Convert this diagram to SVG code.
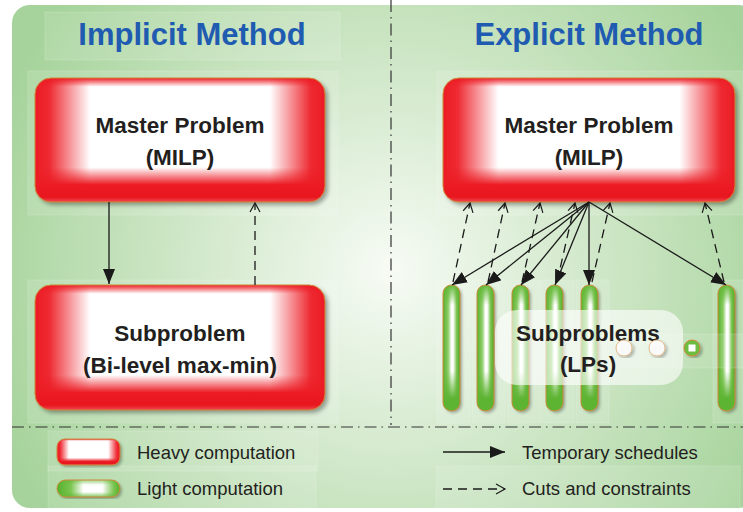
<svg xmlns="http://www.w3.org/2000/svg" width="743" height="512" viewBox="0 0 743 512">
<defs>
<radialGradient id="bg" cx="390" cy="270" r="420" gradientUnits="userSpaceOnUse">
<stop offset="0" stop-color="#f7fbf5"/>
<stop offset="0.45" stop-color="#d3e9cc"/>
<stop offset="1" stop-color="#a6d39b"/>
</radialGradient>
<linearGradient id="redH" x1="0" y1="0" x2="1" y2="0">
<stop offset="0" stop-color="#ec1c24"/>
<stop offset="0.05" stop-color="#ee2a32"/>
<stop offset="0.19" stop-color="#ffffff"/>
<stop offset="0.81" stop-color="#ffffff"/>
<stop offset="0.95" stop-color="#ee2a32"/>
<stop offset="1" stop-color="#ec1c24"/>
</linearGradient>
<linearGradient id="redV" x1="0" y1="0" x2="0" y2="1">
<stop offset="0" stop-color="#ec1c24" stop-opacity="1"/>
<stop offset="0.07" stop-color="#ec1c24" stop-opacity="0"/>
<stop offset="0.72" stop-color="#ec1c24" stop-opacity="0"/>
<stop offset="0.86" stop-color="#ec1c24" stop-opacity="1"/>
<stop offset="0.96" stop-color="#e8161e" stop-opacity="1"/>
<stop offset="1" stop-color="#f04850" stop-opacity="1"/>
</linearGradient>
<linearGradient id="grnH" x1="0" y1="0" x2="1" y2="0">
<stop offset="0" stop-color="#55b02a"/>
<stop offset="0.3" stop-color="#8ccd66"/>
<stop offset="0.5" stop-color="#ffffff"/>
<stop offset="0.6" stop-color="#ffffff"/>
<stop offset="0.8" stop-color="#7cc552"/>
<stop offset="1" stop-color="#4ea626"/>
</linearGradient>
<linearGradient id="grnV" x1="0" y1="0" x2="0" y2="1">
<stop offset="0" stop-color="#62b836" stop-opacity="1"/>
<stop offset="0.16" stop-color="#62b836" stop-opacity="0"/>
<stop offset="0.68" stop-color="#62b836" stop-opacity="0"/>
<stop offset="0.9" stop-color="#5db332" stop-opacity="1"/>
<stop offset="1" stop-color="#5db332" stop-opacity="1"/>
</linearGradient>
<linearGradient id="grnLeg" x1="0" y1="0" x2="1" y2="0">
<stop offset="0" stop-color="#55b02a"/>
<stop offset="0.22" stop-color="#7cc552"/>
<stop offset="0.42" stop-color="#ffffff"/>
<stop offset="0.72" stop-color="#ffffff"/>
<stop offset="0.9" stop-color="#7cc552"/>
<stop offset="1" stop-color="#55b02a"/>
</linearGradient>
<linearGradient id="grnLegV" x1="0" y1="0" x2="0" y2="1">
<stop offset="0" stop-color="#62b836" stop-opacity="0.6"/>
<stop offset="0.3" stop-color="#62b836" stop-opacity="0"/>
<stop offset="0.7" stop-color="#62b836" stop-opacity="0"/>
<stop offset="1" stop-color="#62b836" stop-opacity="0.8"/>
</linearGradient>
<filter id="shadow" x="-20%" y="-20%" width="140%" height="140%">
<feDropShadow dx="3" dy="3" stdDeviation="2" flood-color="#000" flood-opacity="0.35"/>
</filter>
<filter id="pshadow" x="-20%" y="-10%" width="150%" height="120%">
<feDropShadow dx="2" dy="2" stdDeviation="1.5" flood-color="#000" flood-opacity="0.3"/>
</filter>
<marker id="solidHead" markerUnits="userSpaceOnUse" markerWidth="16" markerHeight="14" refX="15" refY="6" orient="auto">
<path d="M0,0 L15,6 L0,12 Z" fill="#1a1a1a"/>
</marker>
<marker id="openHead" markerUnits="userSpaceOnUse" markerWidth="12" markerHeight="12" refX="10" refY="6" orient="auto">
<path d="M1,1 L10,6 L1,11" fill="none" stroke="#1a1a1a" stroke-width="1.2"/>
</marker>
<style>
.title{font-family:"Liberation Sans",Arial,sans-serif;font-weight:bold;font-size:31px;fill:#1f5bb0;text-anchor:middle}
.big{font-family:"Liberation Sans",Arial,sans-serif;font-weight:bold;font-size:22.5px;fill:#231f20;text-anchor:middle}
.leg{font-family:"Liberation Sans",Arial,sans-serif;font-size:18.5px;fill:#231f20}
.faint{fill:#ffffff;fill-opacity:0.12;stroke:#ffffff;stroke-opacity:0.2;stroke-width:0.8}
.solid{stroke:#1a1a1a;stroke-width:1.3;fill:none}
.dash{stroke:#1a1a1a;stroke-width:1.3;fill:none;stroke-dasharray:9,6}
.sep{stroke:#333;stroke-width:1.2;fill:none;stroke-dasharray:12,5,1.5,5}
.edge{fill:none;stroke:#cf8a3a;stroke-width:1}
</style>
</defs>

<rect x="0" y="0" width="743" height="512" fill="#ffffff"/>
<rect x="12" y="5" width="745" height="503" rx="18" fill="url(#bg)"/>

<g id="faint-boxes">
<rect class="faint" x="45" y="12" width="295" height="48"/>
<rect class="faint" x="28" y="71" width="310" height="144"/>
<rect class="faint" x="28" y="280" width="310" height="143"/>
<rect class="faint" x="437" y="71" width="306" height="144"/>
<rect class="faint" x="437" y="280" width="33" height="143"/>
<rect class="faint" x="472" y="280" width="33" height="143"/>
<rect class="faint" x="507" y="280" width="33" height="143"/>
<rect class="faint" x="541" y="280" width="33" height="143"/>
<rect class="faint" x="576" y="280" width="33" height="143"/>
<rect class="faint" x="713" y="280" width="30" height="143"/>
<rect class="faint" x="48" y="431" width="270" height="40"/>
<rect class="faint" x="48" y="466" width="268" height="44"/>
<rect class="faint" x="436" y="466" width="304" height="44"/>
</g>

<g id="dividers">
<line class="sep" x1="391" y1="0" x2="391" y2="425"/>
<line class="sep" x1="12" y1="427" x2="743" y2="427"/>
</g>

<g id="title-implicit"><text class="title" x="192" y="45">Implicit Method</text></g>
<g id="title-explicit"><text class="title" x="589" y="45">Explicit Method</text></g>

<g id="master-left">
<rect x="35" y="78" width="290" height="124" rx="16" fill="url(#redH)" filter="url(#shadow)"/>
<rect x="35" y="78" width="290" height="124" rx="16" fill="url(#redV)"/>
<rect class="edge" x="35" y="78" width="290" height="124" rx="16"/>
<text class="big" x="180" y="133">Master Problem</text>
<text class="big" x="180" y="165">(MILP)</text>
</g>

<g id="sub-left">
<rect x="35" y="285" width="290" height="125" rx="16" fill="url(#redH)" filter="url(#shadow)"/>
<rect x="35" y="285" width="290" height="125" rx="16" fill="url(#redV)"/>
<rect class="edge" x="35" y="285" width="290" height="125" rx="16"/>
<text class="big" x="180" y="341">Subproblem</text>
<text class="big" x="180" y="373">(Bi-level max-min)</text>
</g>

<g id="master-right">
<rect x="443" y="78" width="292" height="124" rx="16" fill="url(#redH)" filter="url(#shadow)"/>
<rect x="443" y="78" width="292" height="124" rx="16" fill="url(#redV)"/>
<rect class="edge" x="443" y="78" width="292" height="124" rx="16"/>
<text class="big" x="589" y="133">Master Problem</text>
<text class="big" x="589" y="165">(MILP)</text>
</g>

<g id="pills">
<g id="pill1"><rect x="443" y="285" width="17" height="126" rx="8.5" fill="url(#grnH)" filter="url(#pshadow)"/><rect x="443" y="285" width="17" height="126" rx="8.5" fill="url(#grnV)"/><rect class="edge" x="443" y="285" width="17" height="126" rx="8.5"/></g>
<g id="pill2"><rect x="477" y="285" width="17" height="126" rx="8.5" fill="url(#grnH)" filter="url(#pshadow)"/><rect x="477" y="285" width="17" height="126" rx="8.5" fill="url(#grnV)"/><rect class="edge" x="477" y="285" width="17" height="126" rx="8.5"/></g>
<g id="pill3"><rect x="512" y="285" width="17" height="126" rx="8.5" fill="url(#grnH)" filter="url(#pshadow)"/><rect x="512" y="285" width="17" height="126" rx="8.5" fill="url(#grnV)"/><rect class="edge" x="512" y="285" width="17" height="126" rx="8.5"/></g>
<g id="pill4"><rect x="546" y="285" width="17" height="126" rx="8.5" fill="url(#grnH)" filter="url(#pshadow)"/><rect x="546" y="285" width="17" height="126" rx="8.5" fill="url(#grnV)"/><rect class="edge" x="546" y="285" width="17" height="126" rx="8.5"/></g>
<g id="pill5"><rect x="581" y="285" width="17" height="126" rx="8.5" fill="url(#grnH)" filter="url(#pshadow)"/><rect x="581" y="285" width="17" height="126" rx="8.5" fill="url(#grnV)"/><rect class="edge" x="581" y="285" width="17" height="126" rx="8.5"/></g>
<g id="pill6"><rect x="718" y="285" width="17" height="126" rx="8.5" fill="url(#grnH)" filter="url(#pshadow)"/><rect x="718" y="285" width="17" height="126" rx="8.5" fill="url(#grnV)"/><rect class="edge" x="718" y="285" width="17" height="126" rx="8.5"/></g>
</g>

<g id="subproblems-label">
<rect x="495" y="310" width="188" height="75" rx="22" fill="#ffffff" fill-opacity="0.62"/>
<rect class="faint" x="610" y="334" width="133" height="34"/>
<text class="big" x="588" y="341">Subproblems</text>
<text class="big" x="588" y="372">(LPs)</text>
</g>

<g id="dots">
<circle cx="624" cy="348" r="8" fill="#ffffff" fill-opacity="0.85" stroke="#e2b98a" stroke-width="1" filter="url(#pshadow)"/>
<circle cx="657" cy="348" r="8" fill="#ffffff" fill-opacity="0.85" stroke="#e2b98a" stroke-width="1" filter="url(#pshadow)"/>
<circle cx="692" cy="348" r="8" fill="#6cbd40" stroke="#cf8a3a" stroke-width="1" filter="url(#pshadow)"/>
<rect x="688.5" y="344.5" width="7" height="7" fill="#ffffff"/>
</g>

<g id="connectors">
<line class="solid" x1="109" y1="202" x2="109" y2="284" marker-end="url(#solidHead)"/>
<line class="dash" x1="255" y1="285" x2="255" y2="203" marker-end="url(#openHead)"/>
<line class="solid" x1="589" y1="202" x2="452" y2="285" marker-end="url(#solidHead)"/>
<line class="solid" x1="589" y1="202" x2="486" y2="285" marker-end="url(#solidHead)"/>
<line class="solid" x1="589" y1="202" x2="521" y2="285" marker-end="url(#solidHead)"/>
<line class="solid" x1="589" y1="202" x2="555" y2="285" marker-end="url(#solidHead)"/>
<line class="solid" x1="589" y1="202" x2="589" y2="285" marker-end="url(#solidHead)"/>
<line class="solid" x1="589" y1="202" x2="726" y2="285" marker-end="url(#solidHead)"/>
<line class="dash" x1="453" y1="282" x2="470" y2="203" marker-end="url(#openHead)"/>
<line class="dash" x1="488" y1="282" x2="505" y2="203" marker-end="url(#openHead)"/>
<line class="dash" x1="522" y1="282" x2="540" y2="203" marker-end="url(#openHead)"/>
<line class="dash" x1="557" y1="282" x2="575" y2="203" marker-end="url(#openHead)"/>
<line class="dash" x1="592" y1="282" x2="610" y2="203" marker-end="url(#openHead)"/>
<line class="dash" x1="724" y1="282" x2="705" y2="203" marker-end="url(#openHead)"/>
</g>

<g id="legend">
<g id="legend-heavy">
<rect x="57" y="439" width="63" height="26" rx="8" fill="url(#redH)" filter="url(#pshadow)"/>
<rect x="57" y="439" width="63" height="26" rx="8" fill="url(#redV)"/>
<rect class="edge" x="57" y="439" width="63" height="26" rx="8"/>
<text class="leg" x="137" y="459">Heavy computation</text>
</g>
<g id="legend-light">
<rect x="57" y="480" width="63" height="17" rx="8.5" fill="url(#grnLeg)" filter="url(#pshadow)"/>
<rect x="57" y="480" width="63" height="17" rx="8.5" fill="url(#grnLegV)"/>
<rect class="edge" x="57" y="480" width="63" height="17" rx="8.5"/>
<text class="leg" x="137" y="495">Light computation</text>
</g>
<g id="legend-solid">
<line class="solid" x1="443" y1="452" x2="505" y2="452" marker-end="url(#solidHead)"/>
<text class="leg" x="522" y="459">Temporary schedules</text>
</g>
<g id="legend-dash">
<line class="dash" x1="443" y1="489" x2="505" y2="489" marker-end="url(#openHead)"/>
<text class="leg" x="522" y="495">Cuts and constraints</text>
</g>
</g>
</svg>
